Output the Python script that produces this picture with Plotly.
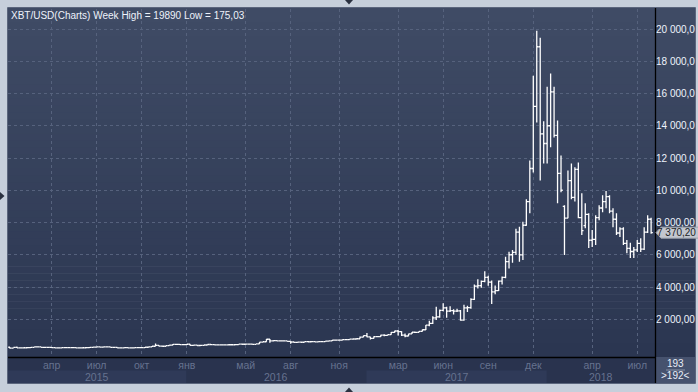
import plotly.graph_objects as go
import pandas as pd

# ---------------- data (weekly OHLC, XBT/USD) ----------------
first_week = "2015-01-12"

open_2015 = [265, 210, 253, 222, 228, 234, 244, 260, 282, 284, 262, 250, 255, 237, 223, 226, 239, 241, 236, 240,
             230, 226, 233, 245, 257, 270, 290, 277, 291, 283, 262, 260, 230, 228, 240, 231, 231, 235, 240, 246,
             265, 292, 325, 380, 330, 325, 370, 395, 445, 440, 422]
high_2015 = [270, 255, 310, 245, 240, 250, 262, 298, 297, 290, 270, 260, 262, 240, 238, 240, 245, 245, 242, 242,
             235, 238, 253, 260, 282, 300, 295, 295, 298, 285, 272, 262, 232, 242, 246, 235, 237, 241, 248, 270,
             300, 335, 500, 385, 335, 375, 420, 465, 465, 460, 440]
low_2015 = [175.03, 205, 215, 215, 216, 230, 233, 258, 278, 255, 235, 240, 235, 215, 218, 220, 230, 232, 230, 227,
            222, 224, 231, 240, 255, 265, 272, 276, 278, 258, 255, 200, 198, 225, 227, 225, 226, 233, 235, 244,
            262, 282, 320, 305, 310, 315, 355, 390, 430, 415, 415]
close_2015 = [210, 253, 222, 228, 234, 244, 260, 282, 284, 262, 250, 255, 237, 223, 226, 239, 241, 236, 240, 230,
              226, 233, 245, 257, 270, 290, 277, 291, 283, 262, 260, 230, 228, 240, 231, 231, 235, 240, 246, 265,
              292, 325, 380, 330, 325, 370, 395, 445, 440, 422, 432]

open_2016 = [432, 450, 385, 392, 372, 385, 402, 435, 432, 410, 412, 410, 416, 420, 420, 430, 458, 450, 460, 455,
             440, 470, 578, 605, 760, 660, 672, 660, 665, 655, 625, 590, 570, 580, 575, 608, 605, 608, 600, 610,
             615, 640, 655, 700, 710, 705, 738, 735, 765, 775, 790, 895]
high_2016 = [460, 455, 420, 395, 392, 405, 448, 440, 440, 420, 420, 420, 425, 425, 432, 462, 468, 462, 465, 460,
             475, 590, 610, 775, 775, 680, 680, 672, 680, 660, 630, 600, 590, 585, 612, 630, 612, 610, 612, 620,
             645, 660, 720, 745, 740, 755, 745, 770, 780, 795, 935, 1000]
low_2016 = [422, 360, 365, 365, 364, 372, 400, 405, 390, 405, 405, 405, 412, 415, 418, 428, 440, 440, 448, 435,
            436, 468, 570, 600, 550, 620, 630, 640, 650, 620, 480, 570, 565, 568, 570, 600, 600, 590, 598, 605,
            612, 628, 650, 680, 700, 700, 725, 728, 755, 765, 788, 880]
close_2016 = [450, 385, 392, 372, 385, 402, 435, 432, 410, 412, 410, 416, 420, 420, 430, 458, 450, 460, 455, 440,
              470, 578, 605, 760, 660, 672, 660, 665, 655, 625, 590, 570, 580, 575, 608, 605, 608, 600, 610, 615,
              640, 655, 700, 710, 705, 738, 735, 765, 775, 790, 895, 980]

open_2017 = [980, 905, 820, 920, 920, 1020, 1000, 1050, 1180, 1270, 1230, 1020, 960, 1090, 1195, 1180, 1250,
             1350, 1640, 1750, 2080, 2150, 2550, 2700, 2500, 2530, 2500, 2520, 1950, 2700, 2720, 3230, 4050,
             4080, 4350, 4600, 4300, 3700, 3780, 4360, 4600, 5570, 6000, 6150, 7400, 5990, 7830, 9300, 11350,
             15200, 18900, 13500]
high_2017 = [1150, 910, 940, 930, 1045, 1065, 1060, 1210, 1290, 1330, 1260, 1120, 1100, 1210, 1220, 1260, 1360,
             1650, 1900, 2180, 2780, 2600, 2990, 2780, 2800, 2620, 2650, 2580, 2900, 2830, 3300, 4150, 4480,
             4400, 4980, 4700, 4400, 4100, 4400, 4650, 5880, 6190, 6290, 7610, 7730, 8040, 9440, 11850, 17100,
             19890, 19460, 14280]
low_2017 = [880, 750, 810, 885, 915, 950, 990, 1045, 1165, 1000, 960, 890, 950, 1080, 1160, 1175, 1240,
            1340, 1570, 1700, 1950, 2100, 2500, 2100, 2450, 2300, 2450, 1900, 1900, 2450, 2650, 3200, 3900,
            3950, 4300, 4080, 2950, 3550, 3750, 4150, 4550, 5150, 5500, 5990, 5570, 5680, 7800, 8580, 11100,
            14200, 10600, 11660]
close_2017 = [905, 820, 920, 920, 1020, 1000, 1050, 1180, 1270, 1230, 1020, 960, 1090, 1195, 1180, 1250, 1350,
              1640, 1750, 2080, 2150, 2550, 2700, 2500, 2530, 2500, 2520, 1950, 2700, 2720, 3230, 4050, 4080,
              4350, 4600, 4300, 3700, 3780, 4360, 4600, 5570, 6000, 6150, 7400, 5990, 7830, 9300, 11350, 15200,
              18900, 13500, 12900]

open_2018 = [12900, 14000, 16100, 13400, 11050, 9000, 8270, 10600, 9560, 11300, 8300, 7800, 8500, 6900, 6950,
             8300, 8900, 9300, 9600, 8700, 8200, 7350, 7600, 6700, 6400, 6200, 6300, 6700, 6350, 7400, 8200]
high_2018 = [16420, 17240, 16420, 14320, 12160, 9070, 11230, 11660, 11420, 11720, 9810, 9190, 8580, 7530, 8450,
             9070, 9690, 9950, 9690, 8890, 8580, 7710, 7710, 6910, 6750, 6480, 6910, 7030, 7710, 8450, 8300]
low_2018 = [11660, 12670, 13270, 9200, 9870, 5990, 8270, 9440, 9300, 8270, 7220, 7650, 6420, 6480, 6600,
            8140, 8640, 8890, 8580, 7710, 7220, 7100, 6600, 6100, 5800, 5800, 6170, 6170, 6300, 7350, 7300]
close_2018 = [14000, 16100, 13400, 11050, 10000, 8270, 10600, 9560, 11300, 8300, 7500, 8500, 6900, 6950, 8300,
              8900, 9300, 9600, 8700, 8200, 7350, 7600, 6700, 6400, 6200, 6300, 6700, 6350, 7400, 8200, 7370.20]

open_ = open_2015 + open_2016 + open_2017 + open_2018
high = high_2015 + high_2016 + high_2017 + high_2018
low = low_2015 + low_2016 + low_2017 + low_2018
close = close_2015 + close_2016 + close_2017 + close_2018

month_ticks = ["2015-04-06", "2015-07-06", "2015-10-05", "2016-01-04", "2016-05-02", "2016-08-01",
               "2016-11-07", "2017-03-06", "2017-06-05", "2017-09-04", "2017-12-04", "2018-04-02", "2018-07-02"]
month_labels = ["апр", "июл", "окт", "янв", "май", "авг", "ноя", "мар", "июн", "сен", "дек", "апр", "июл"]
year_labels = ["2015", "2016", "2017", "2018"]
year_edges = ["2015-01-08", "2016-01-03", "2017-01-01", "2017-12-31", "2018-08-07"]
price_ticks = [2000, 4000, 6000, 8000, 10000, 12000, 14000, 16000, 18000, 20000]
price_labels = ["2 000,00", "4 000,00", "6 000,00", "8 000,00", "10 000,00", "12 000,00",
                "14 000,00", "16 000,00", "18 000,00", "20 000,00"]
counter_labels = ["193", ">192<"]

# ---------------- layout geometry ----------------
W, H = 698, 392
PL, PR, PT, PB = 8, 655, 9, 357
X_RANGE = ["2015-01-08", "2018-08-06 20:00"]
Y_RANGE = [-341, 21240]


def fx(px):
    return (px - PL) / (PR - PL)


def fy(py):
    return (PB - py) / (PB - PT)


def vy(v):  # data value -> pixel row
    return PB - (v - Y_RANGE[0]) / (Y_RANGE[1] - Y_RANGE[0]) * (PB - PT)


def fmt(v):
    return f"{v:,.2f}".replace(",", " ").replace(".", ",")


def mix(c0, c1, t):
    return "rgb(%d,%d,%d)" % tuple(round(a + (b - a) * t) for a, b in zip(c0, c1))


def prect(x0, y0, x1, y1, **kw):
    return dict(type="rect", xref="paper", yref="paper", x0=fx(x0), x1=fx(x1), y0=fy(y1), y1=fy(y0), **kw)


def ppath(pts, **kw):
    d = "M " + " L ".join(f"{fx(x):.5f},{fy(y):.5f}" for x, y in pts) + " Z"
    return dict(type="path", xref="paper", yref="paper", path=d, **kw)


FONT = "Liberation Sans, Arial"
shapes = []
# panel gradient
top_c, bot_c = (63, 75, 101), (43, 54, 81)
n = 50
y_a, y_b = 8, PB
for i in range(n):
    ya = y_a + (y_b - y_a) * i / n
    yb = y_a + (y_b - y_a) * (i + 1) / n + 0.6
    shapes.append(prect(8, ya, 695, yb, fillcolor=mix(top_c, bot_c, i / (n - 1)), line_width=0, layer="below"))
# bottom axis strip
shapes.append(prect(8, PB, 655, 383, fillcolor="#29334e", line_width=0, layer="below"))
# alternate year bands
for k in range(len(year_labels)):
    if k % 2 == 0:
        shapes.append(dict(type="rect", xref="x", yref="paper", x0=year_edges[k], x1=year_edges[k + 1],
                           y0=fy(383), y1=fy(370.5), fillcolor="#2f3a58", line_width=0, layer="below"))
# counter box
shapes.append(prect(655, PB, 695, 383, fillcolor="#46526e", line_width=0, layer="below"))
shapes.append(dict(type="line", xref="paper", yref="paper", x0=fx(666), x1=fx(685), y0=fy(370), y1=fy(370),
                   line=dict(color="#8a94a8", width=1)))
# separators
shapes.append(dict(type="line", xref="paper", yref="paper", x0=fx(8), x1=fx(655.5), y0=fy(357.5), y1=fy(357.5),
                   line=dict(color="#000000", width=1.3), layer="above"))
shapes.append(dict(type="line", xref="paper", yref="paper", x0=fx(655.5), x1=fx(655.5), y0=fy(8), y1=fy(383),
                   line=dict(color="#000000", width=1.3), layer="above"))
# panel border
shapes.append(prect(7.5, 7.5, 695.5, 383.5, line=dict(color="#5b667d", width=1), layer="above"))
# clip right of panel (cuts axis labels like the reference)
shapes.append(prect(696, 0, 700, 392, fillcolor="#c6cfdb", line_width=0, layer="above"))
# last price tag
ty = vy(close[-1])
shapes.append(ppath([(656, ty), (661, ty - 5.5), (699, ty - 5.5), (699, ty + 5.5), (661, ty + 5.5)],
                    fillcolor="#c3c7cf", line=dict(color="#9ea3ad", width=1), layer="above"))
# UI triangles
shapes.append(ppath([(345, 0), (353, 0), (349, 4.5)], fillcolor="#2a3140", line_width=0, layer="above"))
shapes.append(ppath([(345, 392), (353, 392), (349, 387.5)], fillcolor="#2a3140", line_width=0, layer="above"))
shapes.append(ppath([(0, 192), (0, 200), (4.5, 196)], fillcolor="#2a3140", line_width=0, layer="above"))

annotations = []
title_text = f"XBT/USD(Charts) Week High = {max(high):g} Low = {fmt(min(low))}"
annotations.append(dict(xref="paper", yref="paper", x=fx(9), y=fy(15), xanchor="left", yanchor="middle",
                        text=title_text, showarrow=False, font=dict(family=FONT, size=10, color="#eef2fa")))
for k, yl in enumerate(year_labels):
    a = pd.Timestamp(max(year_edges[k], X_RANGE[0]))
    b = pd.Timestamp(min(year_edges[k + 1], X_RANGE[1]))
    annotations.append(dict(xref="x", yref="paper", x=a + (b - a) / 2, y=fy(376.5), xanchor="center",
                            yanchor="middle", text=yl, showarrow=False,
                            font=dict(family=FONT, size=10.5, color="#66728f")))
annotations.append(dict(xref="paper", yref="paper", x=fx(676), y=fy(ty), xanchor="center", yanchor="middle",
                        text=fmt(close[-1]), showarrow=False, font=dict(family=FONT, size=10, color="#1c1f26")))
annotations.append(dict(xref="paper", yref="paper", x=fx(675.5), y=fy(363.5), xanchor="center", yanchor="middle",
                        text=counter_labels[0], showarrow=False, font=dict(family=FONT, size=10, color="#e9eef7")))
annotations.append(dict(xref="paper", yref="paper", x=fx(675.5), y=fy(376), xanchor="center", yanchor="middle",
                        text=counter_labels[1], showarrow=False, font=dict(family=FONT, size=10, color="#e9eef7")))

dates = pd.date_range(first_week, periods=len(close), freq="7D")

fig = go.Figure(go.Ohlc(
    x=dates, open=open_, high=high, low=low, close=close,
    increasing=dict(line=dict(color="#ffffff", width=1.3)),
    decreasing=dict(line=dict(color="#ffffff", width=1.3)),
    tickwidth=0.5, hoverinfo="skip", showlegend=False,
))

fig.update_layout(
    width=W, height=H,
    margin=dict(l=PL, r=W - PR, t=PT, b=H - PB, pad=0),
    paper_bgcolor="#c6cfdb", plot_bgcolor="rgba(0,0,0,0)",
    shapes=shapes, annotations=annotations, showlegend=False,
    xaxis=dict(type="date", range=X_RANGE, rangeslider=dict(visible=False),
               tickmode="array", tickvals=month_ticks, ticktext=month_labels, ticks="",
               tickfont=dict(family=FONT, size=10.5, color="#66728f"),
               showgrid=True, gridcolor="#56627d", griddash="3px,3px", gridwidth=1,
               zeroline=False, showline=False, fixedrange=True, automargin=False),
    yaxis=dict(side="right", range=Y_RANGE, tickmode="array", tickvals=price_ticks, ticktext=price_labels,
               ticks="", tickfont=dict(family=FONT, size=10, color="#eef3fc"),
               showgrid=True, gridcolor="#56627d", griddash="3px,3px", gridwidth=1,
               zeroline=False, showline=False, fixedrange=True, automargin=False),
)

fig.write_html("out.html", config={"displayModeBar": False},
               post_script="document.body.style.margin='0';document.body.style.overflow='hidden';")
